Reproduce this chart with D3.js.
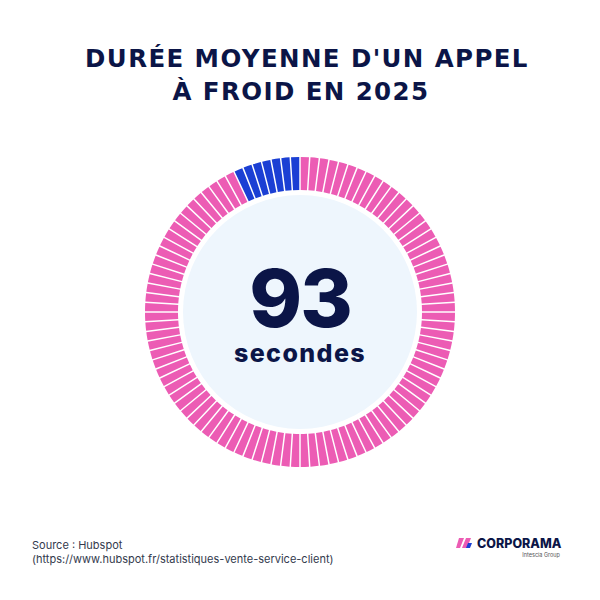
<!DOCTYPE html>
<html>
<head>
<meta charset="utf-8">
<script src="https://cdn.jsdelivr.net/npm/d3@7"></script>
<style>
    body { margin: 0; background: #fff; }
    svg { display: block; }
</style>
</head>
<body>
<div id="chart"></div>
<script>
const [WIDTH, HEIGHT] = [600, 600]

// chart data
const titleLines = ["DURÉE MOYENNE D'UN APPEL", "À FROID EN 2025"]
const seriesNames = ["secondes", "reste"]
const seriesCounts = [93, 7]
const seriesColors = ["#ec5cb4", "#1b3fd4"]
const bigValue = "93"
const unitLabel = "secondes"
const sourceLines = ["Source : Hubspot", "(https://www.hubspot.fr/statistiques-vente-service-client)"]

const NAVY = "#0b1547"
const CX = 300, CY = 312

const svg = d3.select("#chart").append("svg")
    .attr("width", WIDTH)
    .attr("height", HEIGHT)
    .attr("viewBox", [0, 0, WIDTH, HEIGHT])

// title
svg.append("g")
    .selectAll("text")
    .data(titleLines)
    .join("text")
    .attr("x", (d, i) => i === 0 ? 307 : 301)
    .attr("y", (d, i) => 67 + i * 33)
    .attr("text-anchor", "middle")
    .attr("font-family", "'DejaVu Sans', sans-serif")
    .attr("font-weight", 700)
    .attr("font-size", 24.5)
    .attr("letter-spacing", 1.4)
    .attr("fill", NAVY)
    .text(d => d)

// build one small segment per unit, tagged with its series
const segments = []
seriesCounts.forEach((n, s) => {
    for (let k = 0; k < n; k++) segments.push({ series: s, idx: segments.length })
})

const angle = d3.scaleBand()
    .domain(segments.map(d => d.idx))
    .range([0, 2 * Math.PI])

const color = d3.scaleOrdinal().domain(d3.range(seriesNames.length)).range(seriesColors)

const arc = d3.arc()
    .innerRadius(122)
    .outerRadius(155)
    .padAngle(0.0095)
    .padRadius(155)

const ring = svg.append("g").attr("transform", `translate(${CX},${CY})`)

ring.append("circle")
    .attr("r", 117)
    .attr("fill", "#eef6fd")

ring.selectAll("path")
    .data(segments)
    .join("path")
    .attr("d", d => arc({ startAngle: angle(d.idx), endAngle: angle(d.idx) + angle.bandwidth() }))
    .attr("fill", d => color(d.series))

ring.append("text")
    .attr("y", 15)
    .attr("text-anchor", "middle")
    .attr("font-family", "Inter, sans-serif")
    .attr("font-weight", 800)
    .attr("font-size", 80)
    .attr("letter-spacing", -2)
    .attr("fill", NAVY)
    .text(bigValue)

ring.append("text")
    .attr("y", 50)
    .attr("text-anchor", "middle")
    .attr("font-family", "Inter, sans-serif")
    .attr("font-weight", 800)
    .attr("font-size", 25)
    .attr("letter-spacing", 1.4)
    .attr("fill", NAVY)
    .text(unitLabel)

// source
svg.append("g")
    .selectAll("text")
    .data(sourceLines)
    .join("text")
    .attr("x", 32)
    .attr("y", (d, i) => 549 + i * 14)
    .attr("font-family", "Inter, sans-serif")
    .attr("font-size", 11)
    .attr("fill", "#333a4d")
    .text(d => d)

// logo
const logo = svg.append("g").attr("transform", "translate(456,538)")
logo.append("path").attr("d", "M3,0 L8,0 L4,10 L0,10 Z").attr("fill", "#ec5cb4")
logo.append("path").attr("d", "M10,0 L15,0 L11,10 L6,10 Z").attr("fill", "#ec5cb4")
logo.append("path").attr("d", "M12,5 L16,5 L14,10 L10,10 Z").attr("fill", "#1b3fd4")
logo.append("text")
    .attr("x", 21).attr("y", 10)
    .attr("font-family", "Inter, sans-serif")
    .attr("font-weight", 800)
    .attr("font-size", 12.5)
    .attr("fill", NAVY)
    .text("CORPORAMA")
logo.append("text")
    .attr("x", 104).attr("y", 19)
    .attr("text-anchor", "end")
    .attr("font-family", "Inter, sans-serif")
    .attr("font-size", 5.5)
    .attr("fill", "#555")
    .text("Intescia Group")
</script>
</body>
</html>
